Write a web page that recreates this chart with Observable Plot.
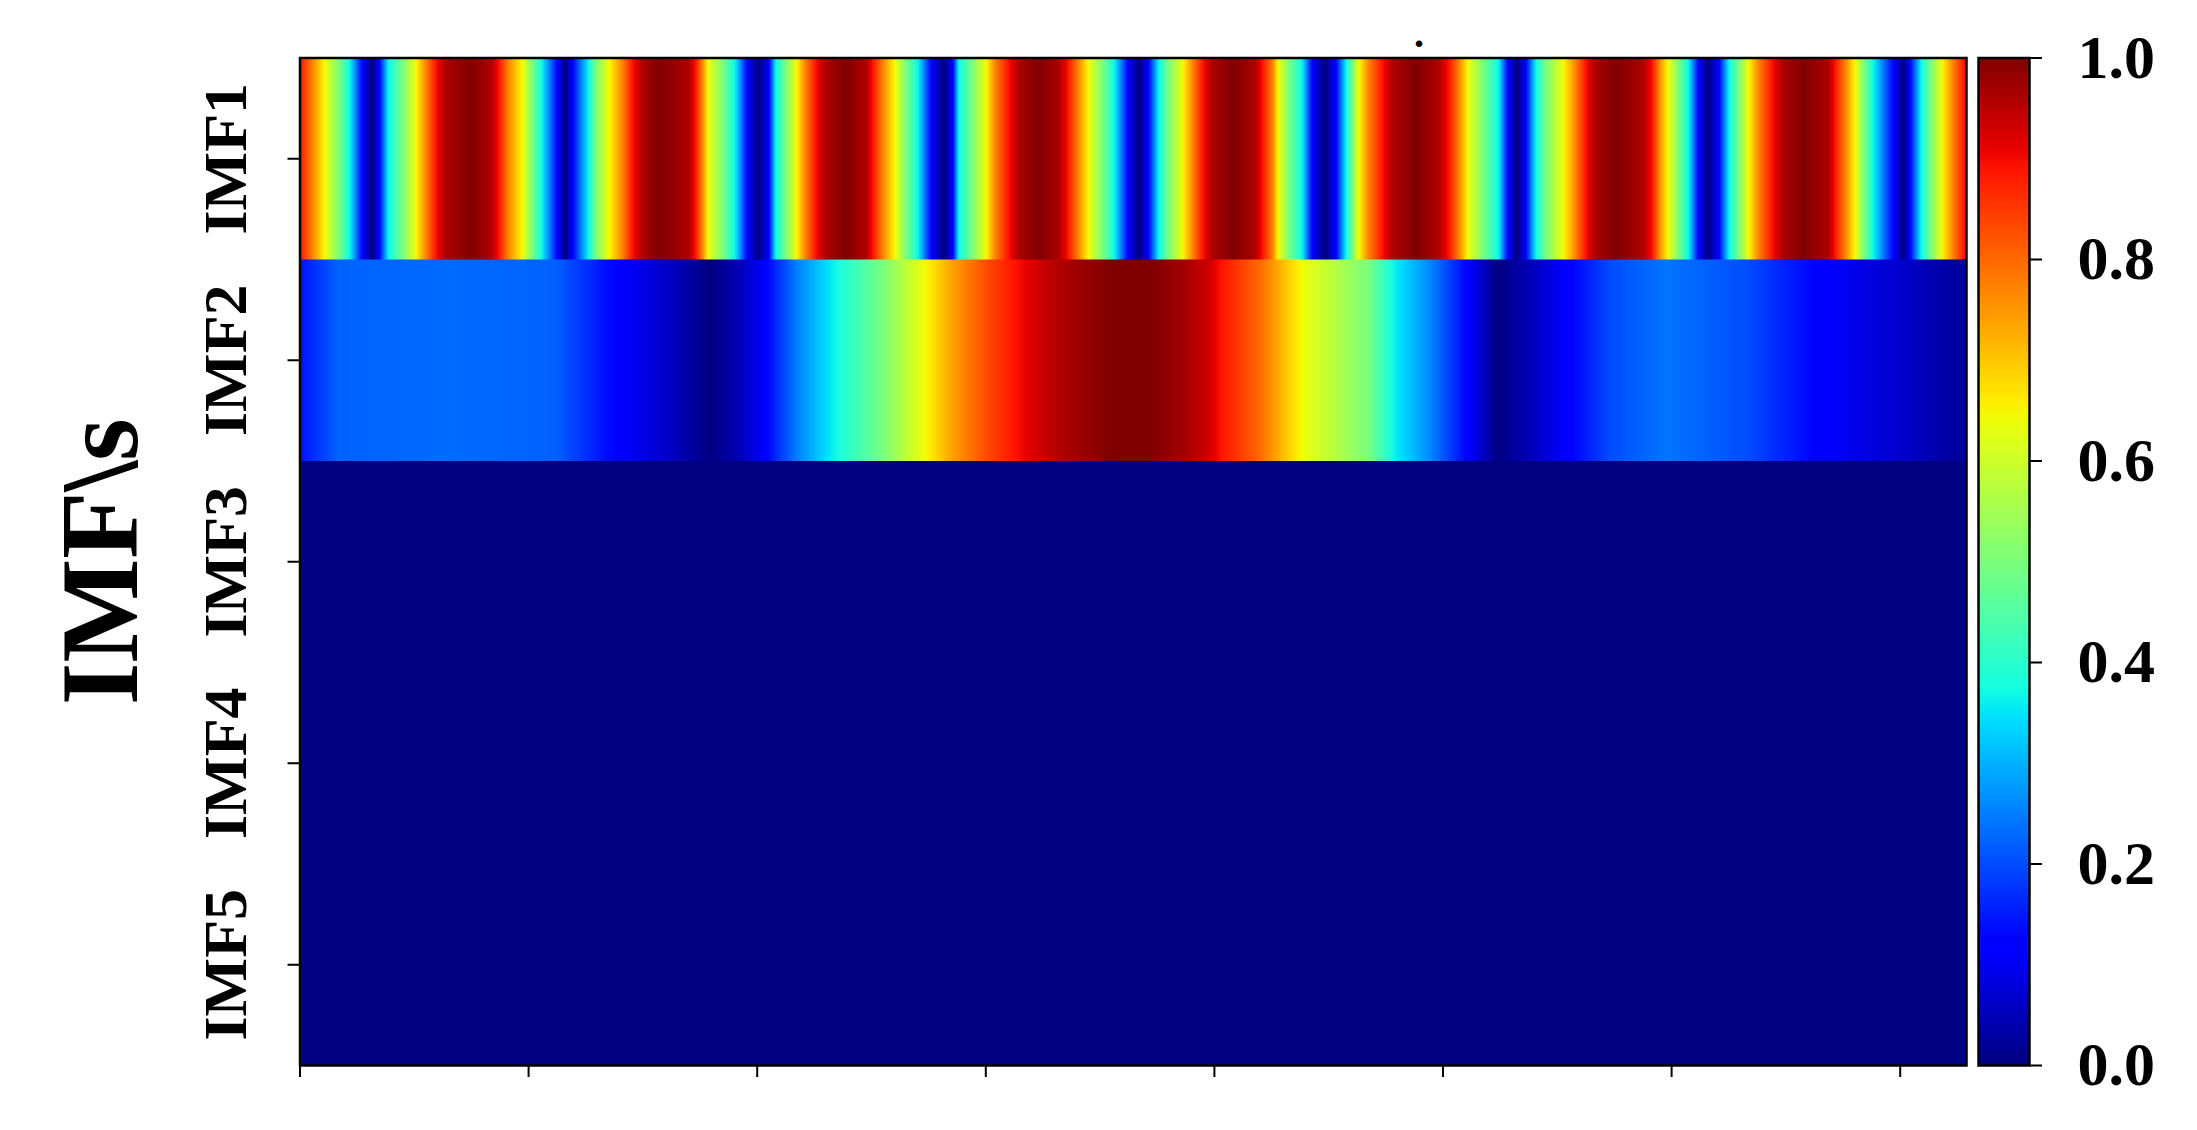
<!DOCTYPE html>
<html>
<head>
<meta charset="utf-8">
<script src="https://cdn.jsdelivr.net/npm/d3@7"></script>
<script src="https://cdn.jsdelivr.net/npm/@observablehq/plot@0.6"></script>
<style>
  body { margin: 0; background: #fff; }
  #wrap { position: relative; width: 2197px; height: 1130px; background: #fff; }
  #wrap svg { position: absolute; left: 0; top: 0; max-width: none; overflow: visible; }
</style>
</head>
<body>
<div id="wrap"></div>
<script>
// ---------------- data ----------------
const rowNames = ["IMF1", "IMF2", "IMF3", "IMF4", "IMF5"];
const yLabel = "IMF\\s";
const sampleCount = 1458;
const xTicks = [0, 200, 400, 600, 800, 1000, 1200, 1400];
const colorTicks = [0, 0.2, 0.4, 0.6, 0.8, 1.0];

const imf1Index = [
  0, 11, 22, 34, 44, 55, 63,
  69, 77, 90, 101, 110, 119, 127, 149, 167,
  174, 182, 195, 203, 212, 226, 232,
  238, 252, 259, 270, 282, 291, 300, 314, 340,
  346, 352, 357, 370, 381, 392, 401,
  410, 416, 425, 434, 442, 451, 460, 477, 495,
  501, 510, 521, 530, 541, 553, 563,
  571, 576, 588, 600, 608, 620, 629, 646, 664,
  672, 681, 690, 702, 713, 725, 734,
  742, 751, 760, 772, 781, 790, 798, 816, 836,
  842, 851, 856, 865, 877, 886, 897,
  906, 915, 921, 926, 935, 947, 956, 976, 996,
  1005, 1014, 1022, 1035, 1049, 1057, 1065,
  1072, 1081, 1090, 1105, 1116, 1125, 1133, 1151, 1175,
  1183, 1189, 1197, 1206, 1215, 1224, 1232,
  1241, 1250, 1259, 1267, 1276, 1288, 1297, 1315, 1337,
  1343, 1352, 1361, 1368, 1377, 1395, 1403,
  1408, 1418, 1427, 1436, 1446, 1456, 1458
];
const imf1Value = [
  0.89, 0.77, 0.64, 0.50, 0.36, 0.11, 0.00,
  0.11, 0.36, 0.50, 0.64, 0.77, 0.89, 0.96, 1.00, 0.96,
  0.89, 0.77, 0.64, 0.50, 0.36, 0.11, 0.00,
  0.11, 0.36, 0.50, 0.64, 0.77, 0.89, 0.96, 1.00, 0.96,
  0.89, 0.77, 0.64, 0.50, 0.36, 0.11, 0.00,
  0.11, 0.36, 0.50, 0.64, 0.77, 0.89, 0.96, 1.00, 0.96,
  0.89, 0.77, 0.64, 0.50, 0.36, 0.11, 0.00,
  0.11, 0.36, 0.50, 0.64, 0.77, 0.89, 0.96, 1.00, 0.96,
  0.89, 0.77, 0.64, 0.50, 0.36, 0.11, 0.00,
  0.11, 0.36, 0.50, 0.64, 0.77, 0.89, 0.96, 1.00, 0.96,
  0.89, 0.77, 0.64, 0.50, 0.36, 0.11, 0.00,
  0.11, 0.36, 0.50, 0.64, 0.77, 0.89, 0.96, 1.00, 0.96,
  0.89, 0.77, 0.64, 0.50, 0.36, 0.11, 0.00,
  0.11, 0.36, 0.50, 0.64, 0.77, 0.89, 0.96, 1.00, 0.96,
  0.89, 0.77, 0.64, 0.50, 0.36, 0.11, 0.00,
  0.11, 0.36, 0.50, 0.64, 0.77, 0.89, 0.96, 1.00, 0.96,
  0.89, 0.77, 0.64, 0.50, 0.36, 0.11, 0.00,
  0.11, 0.36, 0.50, 0.64, 0.77, 0.89, 0.90
];

const imf2Index = [
  0, 25, 33, 132, 224, 234, 284, 324, 359, 385, 405, 435, 460, 485, 511, 535, 546,
  571, 601, 626, 651, 686, 711, 744, 773, 792, 806, 839, 877, 901, 934, 958, 991,
  1024, 1048, 1076, 1105, 1147, 1195, 1266, 1337, 1408, 1458
];
const imf2Value = [
  0.14, 0.20, 0.22, 0.23, 0.22, 0.20, 0.11, 0.06, 0.00, 0.05, 0.11, 0.25, 0.34, 0.42, 0.50, 0.60, 0.64,
  0.74, 0.83, 0.89, 0.94, 0.98, 1.00, 1.00, 0.97, 0.94, 0.89, 0.80, 0.64, 0.58, 0.50, 0.36, 0.25,
  0.11, 0.00, 0.05, 0.11, 0.20, 0.24, 0.20, 0.11, 0.06, 0.02
];

const imf3Index = [0, 1458];
const imf3Value = [0, 0];
const imf4Index = [0, 1458];
const imf4Value = [0, 0];
const imf5Index = [0, 1458];
const imf5Value = [0, 0];

// jet colormap stops
const jetStops = [0, 0.11, 0.125, 0.34, 0.35, 0.375, 0.64, 0.65, 0.66, 0.89, 0.91, 1];
const jetColors = ["#000080", "#0000ff", "#0000ff", "#00dbff", "#00e5f7", "#15ffe2",
                   "#eeff08", "#f7f500", "#ffec00", "#ff1300", "#e80000", "#800000"];

// ---------------- layout ----------------
const W = 2197, H = 1130;
const mTop = 57.5, mBottom = 65, mLeft = 299.5, mRight = 231;
const font = "'Liberation Serif', 'Times New Roman', serif";
const colorScale = {type: "linear", domain: jetStops, range: jetColors, interpolate: "rgb", clamp: true};

const rows = [
  {index: imf1Index, value: imf1Value},
  {index: imf2Index, value: imf2Value},
  {index: imf3Index, value: imf3Value},
  {index: imf4Index, value: imf4Value},
  {index: imf5Index, value: imf5Value}
];

// each row's raster slightly overlaps the next one so no seam shows at the shared edge
const rasters = rows.map((r, i) => {
  const top = i, bottom = i + 1 + (i < rows.length - 1 ? 0.012 : 0);
  return Plot.raster(
    r.index.flatMap((t, k) => [{x: t, y: top, v: r.value[k]}, {x: t, y: bottom, v: r.value[k]}]),
    {x: "x", y: "y", fill: "v", x1: 0, x2: sampleCount, y1: top, y2: bottom, interpolate: "barycentric"}
  );
});

const main = Plot.plot({
  width: W, height: H,
  marginTop: mTop, marginBottom: mBottom, marginLeft: mLeft, marginRight: mRight,
  style: {background: "transparent", overflow: "visible", fontFamily: font, fontWeight: "bold"},
  x: {domain: [0, sampleCount]},
  y: {domain: [0, rowNames.length], reverse: true},
  color: colorScale,
  marks: [
    ...rasters,
    Plot.frame({stroke: "black", strokeWidth: 2.5}),
    Plot.axisX({ticks: xTicks, tickSize: 12, tickFormat: () => "", label: null, strokeWidth: 2}),
    Plot.axisY({ticks: rowNames.map((d, i) => i + 0.5), tickSize: 12, tickFormat: () => "", label: null, strokeWidth: 2}),
    Plot.text(rowNames, {
      y: (d, i) => i + 0.5, frameAnchor: "left", dx: -74, rotate: -90,
      textAnchor: "middle", lineAnchor: "middle",
      fontSize: 62, fontWeight: "bold", fontFamily: font, fill: "black"
    }),
    Plot.text([yLabel], {
      frameAnchor: "left", dx: -198.5, rotate: -90,
      textAnchor: "middle", lineAnchor: "middle",
      fontSize: 110, fontWeight: "bold", fontFamily: font, fill: "black"
    }),
    Plot.text(["."], {
      x: 979, frameAnchor: "top", dy: -11, lineAnchor: "bottom", textAnchor: "middle",
      fontSize: 40, fontWeight: "bold", fontFamily: font, fill: "black"
    })
  ]
});

const cb = Plot.plot({
  width: W, height: H,
  marginTop: mTop, marginBottom: mBottom, marginLeft: 1978, marginRight: W - 2029,
  style: {background: "transparent", overflow: "visible", fontFamily: font, fontWeight: "bold"},
  x: {domain: [0, 1], axis: null},
  y: {domain: [0, 1]},
  color: colorScale,
  marks: [
    Plot.raster({fill: (x, y) => y, x1: 0, x2: 1, y1: 0, y2: 1}),
    Plot.frame({stroke: "black", strokeWidth: 2.5}),
    Plot.axisY({
      anchor: "right", ticks: colorTicks, tickSize: 12, tickPadding: 36,
      tickFormat: d3.format(".1f"), label: null, strokeWidth: 2,
      fontSize: 62, fontWeight: "bold", fontFamily: font, fill: "black"
    })
  ]
});

const wrap = document.getElementById("wrap");
wrap.appendChild(main);
wrap.appendChild(cb);
</script>
</body>
</html>
